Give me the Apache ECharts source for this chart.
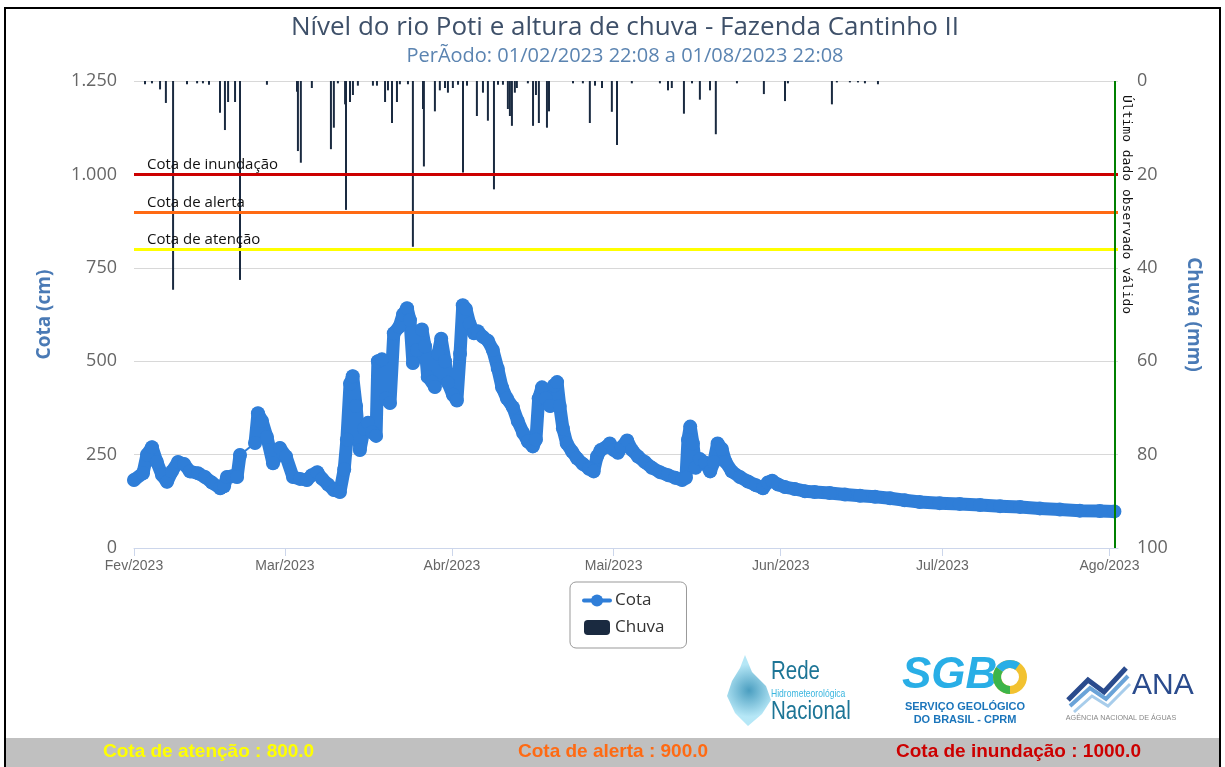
<!DOCTYPE html>
<html>
<head>
<meta charset="utf-8">
<title>Nível do rio Poti e altura de chuva - Fazenda Cantinho II</title>
<script src="https://cdn.jsdelivr.net/npm/echarts@6/dist/echarts.min.js"></script>
<style>
html, body { margin: 0; padding: 0; background: #fff; }
#chart { width: 1225px; height: 767px; }
</style>
</head>
<body>
<div id="chart"></div>
<script>
// eixo x: inicio de cada mes
var monthTicks = ['02-01 00', '03-01 00', '04-01 00', '05-01 00', '06-01 00', '07-01 00', '08-01 00'];
var monthLabels = ['Fev/2023', 'Mar/2023', 'Abr/2023', 'Mai/2023', 'Jun/2023', 'Jul/2023', 'Ago/2023'];

// cota do rio (cm) (MM-DD HH)
var cotaTimes = [
    '02-01 00', '02-02 16', '02-03 10', '02-04 08', '02-05 06', '02-06 05', '02-07 03', '02-08 01', '02-09 04', '02-10 07',
    '02-11 09', '02-12 21', '02-14 04', '02-15 11', '02-17 00', '02-17 17', '02-18 06', '02-19 05', '02-20 03', '02-20 16',
    '02-22 00', '02-23 11', '02-24 00', '02-24 18', '02-25 16', '02-26 19', '02-28 02', '03-01 05', '03-02 12', '03-03 19',
    '03-05 02', '03-06 00', '03-07 00', '03-07 22', '03-09 00', '03-10 02', '03-11 05', '03-12 00', '03-12 12', '03-13 02',
    '03-13 14', '03-14 05', '03-14 22', '03-15 17', '03-16 10', '03-17 05', '03-17 22', '03-18 06', '03-19 00', '03-19 18',
    '03-20 12', '03-21 05', '03-22 05', '03-22 22', '03-23 16', '03-24 05', '03-24 18', '03-25 12', '03-26 10', '03-27 00',
    '03-27 12', '03-28 07', '03-28 20', '03-29 10', '03-30 00', '03-30 17', '03-31 06', '04-01 04', '04-01 22', '04-02 12',
    '04-03 00', '04-03 14', '04-04 07', '04-05 02', '04-05 19', '04-06 18', '04-07 16', '04-08 14', '04-09 12', '04-10 07',
    '04-11 05', '04-12 07', '04-13 05', '04-14 05', '04-15 02', '04-16 00', '04-16 14', '04-17 02', '04-17 17', '04-18 10',
    '04-19 05', '04-19 22', '04-20 12', '04-21 00', '04-21 14', '04-22 07', '04-23 07', '04-24 05', '04-25 07', '04-26 10',
    '04-27 07', '04-27 22', '04-28 14', '04-29 14', '04-30 07', '05-01 01', '05-01 19', '05-02 12', '05-03 12', '05-04 10',
    '05-05 12', '05-06 19', '05-08 02', '05-09 14', '05-11 02', '05-12 10', '05-13 17', '05-14 10', '05-14 19', '05-15 05',
    '05-15 17', '05-16 05', '05-17 00', '05-18 00', '05-18 22', '05-19 14', '05-20 07', '05-21 02', '05-21 19', '05-22 22',
    '05-24 10', '05-25 22', '05-27 10', '05-28 17', '05-29 14', '05-30 10', '05-31 12', '06-01 19', '06-03 14', '06-05 12',
    '06-07 07', '06-10 02', '06-12 22', '06-15 17', '06-18 12', '06-21 07', '06-24 00', '06-26 19', '06-30 12', '07-04 05',
    '07-08 00', '07-11 17', '07-15 10', '07-19 02', '07-22 19', '07-26 12', '07-30 05', '08-01 22'
];
var cotaValues = [
    182, 200, 250, 270, 230, 195, 177, 205, 230, 225,
    205, 200, 190, 175, 160, 165, 190, 192, 190, 249,
    null, 281, 361, 340, 297, 227, 268, 245, 190, 185,
    182, 195, 203, 185, 170, 155, 150, 210, 290, 440,
    460, 380, 262, 320, 335, 310, 300, 500, 505, 400,
    388, 575, 592, 625, 642, 610, 495, 530, 585, 540,
    458, 445, 431, 520, 560, 500, 442, 410, 395, 520,
    650, 640, 600, 575, 580, 565, 555, 530, 480, 430,
    400, 377, 340, 308, 285, 272, 290, 400, 430, 400,
    380, 435, 444, 380, 320, 280, 258, 240, 225, 212,
    205, 245, 262, 270, 280, 262, 255, 270, 288, 262,
    245, 230, 215, 203, 195, 188, 182, 188, 290, 325,
    280, 215, 238, 228, 205, 230, 280, 265, 230, 205,
    190, 178, 168, 160, 175, 180, 170, 163, 158, 152,
    150, 147, 143, 140, 137, 133, 128, 123, 120, 118,
    115, 112, 110, 106, 103, 100, 99, 98
];
// trecho sem dados (ligado por linha fina)
var gapTimes = ['02-20 16', '02-23 11'];
var gapValues = [249, 281];

// chuva (mm)
var chuvaTimes = [
    '02-03 01', '02-04 08', '02-05 20', '02-06 22', '02-08 06', '02-10 20', '02-12 17', '02-13 19', '02-14 22', '02-16 23',
    '02-17 21', '02-18 11', '02-19 18', '02-20 16', '02-25 16', '03-03 06', '03-03 10', '03-03 23', '03-06 00', '03-09 13',
    '03-10 02', '03-10 20', '03-12 04', '03-12 08', '03-13 02', '03-13 15', '03-14 13', '03-17 08', '03-18 02', '03-19 14',
    '03-20 03', '03-20 21', '03-21 19', '03-22 08', '03-23 20', '03-24 18', '03-26 15', '03-26 19', '03-28 20', '03-29 18',
    '03-30 17', '03-31 06', '04-01 04', '04-02 03', '04-03 01', '04-03 19', '04-05 15', '04-06 18', '04-07 16', '04-08 19',
    '04-09 13', '04-10 11', '04-11 09', '04-11 18', '04-12 03', '04-12 16', '04-13 01', '04-15 02', '04-16 01', '04-16 14',
    '04-17 03', '04-18 15', '04-19 00', '04-23 11', '04-25 07', '04-26 14', '04-27 13', '04-28 20', '04-30 16', '05-01 15',
    '05-04 09', '05-09 14', '05-11 02', '05-11 19', '05-14 01', '05-15 13', '05-17 00', '05-18 21', '05-19 23', '05-23 21',
    '05-28 21', '06-01 19', '06-02 08', '06-10 12', '06-11 10', '06-13 20', '06-15 08', '06-16 15', '06-19 01'
];
var chuvaValues = [
    0.7, 0.5, 1.8, 4.7, 44.7, 0.7, 0.5, 0.5, 0.8, 6.8,
    10.5, 4.5, 4.5, 42.6, 0.8, 2.3, 15, 17.5, 1.5, 14.6,
    10, 0.5, 5, 27.6, 4.5, 3, 1, 1, 1, 4.5,
    2, 9, 4.5, 0.7, 0.7, 35.5, 6, 18.3, 6.5, 2,
    1.5, 2.5, 1.5, 0.8, 19.6, 1, 7.5, 2.5, 8.5, 23.2,
    0.8, 0.8, 6, 7.5, 9.6, 2.5, 1.5, 0.5, 9.6, 3,
    9, 10, 6.5, 0.5, 0.5, 9, 1, 1.5, 6.6, 13.7,
    0.5, 0.5, 2, 1.5, 7, 0.5, 4, 2, 11.4, 0.5,
    2.8, 4.3, 0.5, 5, 0.3, 0.3, 0.3, 0.5, 0.7
];

// cotas de referencia
var limiarNomes = ['Cota de atenção', 'Cota de alerta', 'Cota de inundação'];
var limiarValores = [800, 900, 1000];
var limiarCores = ['#ffff00', '#ff6a13', '#cc0000'];
var ultimoDado = '08-01 22';
var inicio = '02-01 00';
var fim = '08-02 14';

// 'MM-DD HH' -> timestamp
function ts(s) {
    var m = +s.slice(0, 2), d = +s.slice(3, 5), h = +s.slice(6, 8);
    return Date.UTC(2023, m - 1, d, h);
}
function zip(times, values) {
    return times.map(function (t, i) { return [ts(t), values[i]]; });
}
var tickValues = monthTicks.map(ts);

var chart = echarts.init(document.getElementById('chart'));

var option = {
    animation: false,
    backgroundColor: '#fff',
    title: {
        text: 'Nível do rio Poti e altura de chuva - Fazenda Cantinho II',
        subtext: 'PerÃodo: 01/02/2023 22:08 a 01/08/2023 22:08',
        left: 620,
        textAlign: 'center',
        top: 9,
        itemGap: 3,
        textStyle: { fontFamily: 'Open Sans', fontSize: 26, fontWeight: 'normal', color: '#3e5069', lineHeight: 28 },
        subtextStyle: { fontFamily: 'Open Sans', fontSize: 20, color: '#5b84b1', lineHeight: 22 }
    },
    legend: {
        orient: 'vertical',
        left: 570,
        top: 582,
        padding: [10, 22, 12, 12],
        itemGap: 10,
        itemWidth: 26,
        itemHeight: 15,
        borderColor: '#999',
        borderWidth: 1,
        borderRadius: 6,
        textStyle: { fontFamily: 'Open Sans', fontSize: 17, color: '#333' },
        data: [
            { name: 'Cota', lineStyle: { width: 4 } },
            { name: 'Chuva', icon: 'roundRect' }
        ]
    },
    grid: { left: 134, right: 107, top: 81, bottom: 219 },
    xAxis: {
        type: 'value',
        min: ts(inicio),
        max: ts(fim),
        axisLine: { lineStyle: { color: '#ccd6eb' } },
        axisTick: { show: true, length: 8, lineStyle: { color: '#ccd6eb' }, customValues: tickValues },
        axisLabel: {
            customValues: tickValues,
            formatter: function (v) {
                var i = tickValues.indexOf(v);
                return i >= 0 ? monthLabels[i] : '';
            },
            color: '#666', fontFamily: 'Liberation Sans', fontSize: 14, margin: 11
        },
        splitLine: { show: false }
    },
    yAxis: [
        {
            type: 'value',
            min: 0, max: 1250, interval: 250,
            name: 'Cota (cm)',
            nameLocation: 'middle',
            nameGap: 80,
            nameTextStyle: { color: '#4a7ab5', fontFamily: 'Open Sans', fontSize: 19, fontWeight: 'bold' },
            axisLine: { show: false },
            axisTick: { show: false },
            axisLabel: {
                color: '#666', fontFamily: 'Open Sans', fontSize: 18, margin: 17,
                formatter: function (v) { return v >= 1000 ? Math.floor(v / 1000) + '.' + String(v % 1000).padStart(3, '0') : String(v); }
            },
            splitLine: { lineStyle: { color: '#d8d8d8', width: 1 } }
        },
        {
            type: 'value',
            min: 0, max: 100, interval: 20,
            inverse: true,
            position: 'right',
            name: 'Chuva (mm)',
            nameLocation: 'middle',
            nameRotate: -90,
            nameGap: 66,
            nameTextStyle: { color: '#4a7ab5', fontFamily: 'Open Sans', fontSize: 19, fontWeight: 'bold' },
            axisLine: { show: false },
            axisTick: { show: false },
            axisLabel: { color: '#666', fontFamily: 'Open Sans', fontSize: 18, margin: 19 },
            splitLine: { show: false }
        }
    ],
    series: [
        {
            name: 'Cota',
            type: 'line',
            yAxisIndex: 0,
            z: 2,
            data: zip(cotaTimes, cotaValues),
            connectNulls: false,
            showSymbol: true,
            symbol: 'circle',
            symbolSize: 14,
            itemStyle: { color: '#2f7ed8' },
            lineStyle: { color: '#2f7ed8', width: 13, cap: 'round', join: 'round' },
            markLine: {
                silent: true,
                symbol: 'none',
                label: {
                    show: true, position: 'insideStartTop', formatter: '{b}', distance: 2,
                    color: '#111', fontFamily: 'Open Sans', fontSize: 15, padding: [0, 0, 0, 11]
                },
                data: limiarNomes.map(function (n, i) {
                    return { name: n, yAxis: limiarValores[i], lineStyle: { color: limiarCores[i], width: 3, type: 'solid' } };
                })
            }
        },
        {
            name: 'Cota gap',
            type: 'line',
            yAxisIndex: 0,
            z: 2,
            data: zip(gapTimes, gapValues),
            showSymbol: false,
            silent: true,
            lineStyle: { color: '#2f7ed8', width: 2 }
        },
        {
            name: 'Chuva',
            type: 'bar',
            yAxisIndex: 1,
            z: 3,
            barWidth: 2,
            data: zip(chuvaTimes, chuvaValues),
            itemStyle: { color: '#1a2a40' },
            markLine: {
                silent: true,
                symbol: 'none',
                lineStyle: { color: '#008000', width: 2, type: 'solid' },
                label: {
                    show: true, position: 'insideStartTop', formatter: 'Último dado observado válido',
                    color: '#111', fontFamily: 'DejaVu Sans Mono', fontSize: 13, distance: [14, 5]
                },
                data: [{ xAxis: ts(ultimoDado) }]
            }
        }
    ],
    graphic: [
        // moldura
        { type: 'rect', shape: { x: 5, y: 8, width: 1215, height: 770 }, style: { fill: 'none', stroke: '#000', lineWidth: 2 }, z: 100 },
        // barra inferior
        { type: 'rect', shape: { x: 6, y: 738, width: 1213, height: 30 }, style: { fill: '#c0c0c0' }, z: 90 },
        { type: 'text', x: 103, y: 752, z: 91, style: { text: limiarNomes[0] + ' : ' + limiarValores[0].toFixed(1), fill: limiarCores[0], font: 'bold 19px "Liberation Sans"', textVerticalAlign: 'middle' } },
        { type: 'text', x: 518, y: 752, z: 91, style: { text: limiarNomes[1] + ' : ' + limiarValores[1].toFixed(1), fill: limiarCores[1], font: 'bold 19px "Liberation Sans"', textVerticalAlign: 'middle' } },
        { type: 'text', x: 896, y: 752, z: 91, style: { text: limiarNomes[2] + ' : ' + limiarValores[2].toFixed(1), fill: limiarCores[2], font: 'bold 19px "Liberation Sans"', textVerticalAlign: 'middle' } },
        // logo Rede Hidrometeorologica
        {
            type: 'polygon', z: 50,
            shape: { points: [[745, 655], [752, 672], [766, 686], [771, 700], [762, 714], [748, 726], [735, 713], [727, 696], [732, 681], [740, 668]] },
            style: { fill: new echarts.graphic.RadialGradient(0.5, 0.5, 0.6, [{ offset: 0, color: '#2b8db5' }, { offset: 1, color: '#a9e3f5' }]), opacity: 0.85 }
        },
        { type: 'text', x: 771, y: 660, z: 51, scaleX: 0.82, style: { text: 'Rede', fill: '#1d7596', font: '25px "Liberation Sans"' } },
        { type: 'text', x: 771, y: 688, z: 51, scaleX: 0.78, style: { text: 'Hidrometeorológica', fill: '#3bb6df', font: '11px "Liberation Sans"' } },
        { type: 'text', x: 771, y: 700, z: 51, scaleX: 0.82, style: { text: 'Nacional', fill: '#1d7596', font: '25px "Liberation Sans"' } },
        // logo SGB
        { type: 'text', x: 902, y: 654, z: 51, style: { text: 'SGB', fill: '#29aee6', font: 'italic bold 44px "Liberation Sans"' } },
        { type: 'ring', z: 51, shape: { cx: 1010, cy: 677, r: 17, r0: 9 }, style: { fill: '#f2c230' } },
        { type: 'sector', z: 52, shape: { cx: 1010, cy: 677, r: 17, r0: 9, startAngle: Math.PI * 0.5, endAngle: Math.PI * 1.2 }, style: { fill: '#3cb54a' } },
        { type: 'sector', z: 52, shape: { cx: 1010, cy: 677, r: 17, r0: 9, startAngle: Math.PI * 1.2, endAngle: Math.PI * 1.7 }, style: { fill: '#29aee6' } },
        { type: 'text', x: 965, y: 707, z: 51, style: { text: 'SERVIÇO GEOLÓGICO', fill: '#1b75bb', font: 'bold 11px "Liberation Sans"', textAlign: 'center', textVerticalAlign: 'middle' } },
        { type: 'text', x: 965, y: 720, z: 51, style: { text: 'DO BRASIL - CPRM', fill: '#1b75bb', font: 'bold 11px "Liberation Sans"', textAlign: 'center', textVerticalAlign: 'middle' } },
        // logo ANA
        { type: 'polyline', z: 51, shape: { points: [[1068, 700], [1088, 680], [1104, 692], [1126, 668]] }, style: { stroke: '#2a4b8d', lineWidth: 5, fill: 'none' } },
        { type: 'polyline', z: 51, shape: { points: [[1070, 706], [1090, 688], [1106, 699], [1128, 676]] }, style: { stroke: '#6aa3d8', lineWidth: 4, fill: 'none' } },
        { type: 'polyline', z: 51, shape: { points: [[1074, 712], [1092, 696], [1108, 706], [1130, 684]] }, style: { stroke: '#a8cdeb', lineWidth: 3, fill: 'none' } },
        { type: 'text', x: 1132, y: 671, z: 51, style: { text: 'ANA', fill: '#2a4b8d', font: '30px "Liberation Sans"' } },
        { type: 'text', x: 1121, y: 718, z: 51, scaleX: 0.9, style: { text: 'AGÊNCIA NACIONAL DE ÁGUAS', fill: '#888', font: '8px "Liberation Sans"', textAlign: 'center', textVerticalAlign: 'middle' } }
    ]
};

chart.setOption(option);
</script>
</body>
</html>
